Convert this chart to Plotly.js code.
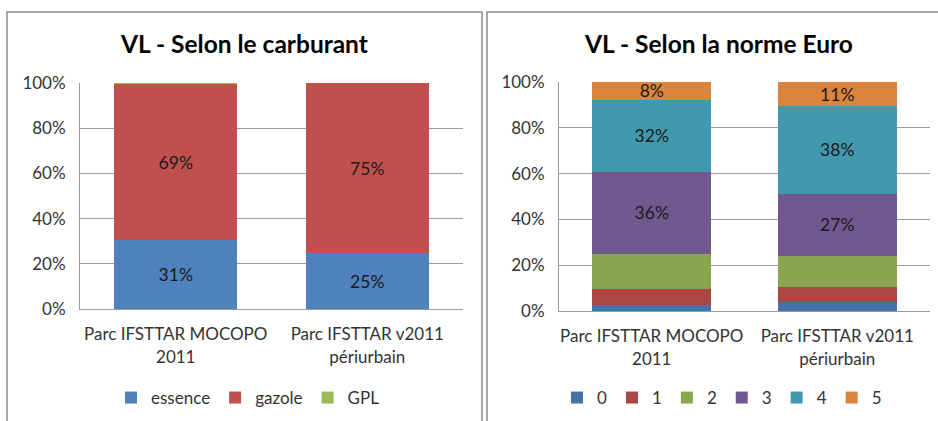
<!DOCTYPE html>
<html>
<head>
<meta charset="utf-8">
<script src="https://cdn.plot.ly/plotly-3.0.1.min.js"></script>
<style>
  html, body { margin: 0; padding: 0; background: #ffffff; }
  #chart { width: 938px; height: 421px; }
</style>
</head>
<body>
<div id="chart"></div>
<script>
// ---- Data ----
const categories = ["Parc IFSTTAR MOCOPO<br>2011", "Parc IFSTTAR v2011<br>périurbain"];

// Left panel: by fuel (%)
const fuelNames = ["essence", "gazole", "GPL"];
const essence = [30.6, 24.7];
const gazole  = [68.8, 75.2];
const gpl     = [0.6, 0.1];

// Right panel: by Euro norm (%)
const euroNames = ["0", "1", "2", "3", "4", "5"];
const euro0 = [2.5, 3.9];
const euro1 = [7.0, 6.8];
const euro2 = [15.5, 13.3];
const euro3 = [35.7, 27.3];
const euro4 = [31.6, 38.1];
const euro5 = [7.7, 10.6];

const yTicks = [0, 20, 40, 60, 80, 100];

// ---- Styles ----
const FONT = "Lato, 'Open Sans', sans-serif";
const fuelColors = ["#4F81BD", "#C0504D", "#9BBB59"];
const euroColors = ["#4572A7", "#AA4643", "#89A54E", "#71588F", "#4198AF", "#DB843D"];
const W = 938, H = 421;
const px = v => v / W;
const py = v => 1 - v / H;

function barTrace(name, y, color, labelled, axis, legend) {
  return {
    type: "bar",
    name: name,
    x: categories,
    y: y,
    xaxis: axis === 1 ? "x" : "x2",
    yaxis: axis === 1 ? "y" : "y2",
    legend: legend,
    marker: { color: color, line: { width: 0 } },
    texttemplate: labelled ? "%{y:.0f}%" : "",
    textposition: labelled ? "inside" : "none",
    insidetextanchor: "middle",
    textangle: 0,
    constraintext: "none",
    textfont: { family: FONT, size: 17.5, color: "#1a1a1a" },
    hoverinfo: "skip"
  };
}

const fuelSeries = [essence, gazole, gpl];
const fuelLabelled = [true, true, false];
const euroSeries = [euro0, euro1, euro2, euro3, euro4, euro5];
const euroLabelled = [false, false, false, true, true, true];

const data = [];
fuelSeries.forEach((s, i) => data.push(barTrace(fuelNames[i], s, fuelColors[i], fuelLabelled[i], 1, "legend")));
euroSeries.forEach((s, i) => data.push(barTrace(euroNames[i], s, euroColors[i], euroLabelled[i], 2, "legend2")));

const yAxisBase = {
  range: [0, 100],
  tickvals: yTicks,
  ticktext: yTicks.map(v => v + "%"),
  showgrid: true,
  gridcolor: "#9a9a9a",
  gridwidth: 1,
  zeroline: false,
  showline: true,
  linecolor: "#9a9a9a",
  linewidth: 1,
  ticks: "",
  ticklabelstandoff: 10,
  tickfont: { family: FONT, size: 17, color: "#333333" },
  fixedrange: true
};
const xAxisBase = {
  showgrid: false,
  zeroline: false,
  showline: true,
  linecolor: "#9a9a9a",
  linewidth: 1,
  ticks: "",
  tickangle: 0,
  ticklabelstandoff: 10,
  tickfont: { family: FONT, size: 17, color: "#333333" },
  fixedrange: true
};

const layout = {
  width: W,
  height: H,
  margin: { l: 0, r: 0, t: 0, b: 0 },
  paper_bgcolor: "#ffffff",
  plot_bgcolor: "#ffffff",
  barmode: "stack",
  bargap: 0.36,
  font: { family: FONT, color: "#333333" },
  xaxis: Object.assign({}, xAxisBase, { domain: [px(80), px(463)], anchor: "y" }),
  yaxis: Object.assign({}, yAxisBase, { domain: [py(309), py(83)], anchor: "x" }),
  xaxis2: Object.assign({}, xAxisBase, { domain: [px(559), px(930)], anchor: "y2" }),
  yaxis2: Object.assign({}, yAxisBase, { domain: [py(311), py(82)], anchor: "x2" }),
  legend: {
    orientation: "h",
    x: px(248), xanchor: "center",
    y: py(398), yanchor: "middle",
    font: { family: FONT, size: 17, color: "#333333" },
    itemclick: false, itemdoubleclick: false,
    traceorder: "normal"
  },
  legend2: {
    orientation: "h",
    x: px(722), xanchor: "center",
    y: py(398), yanchor: "middle",
    font: { family: FONT, size: 17, color: "#333333" },
    itemclick: false, itemdoubleclick: false,
    traceorder: "normal"
  },
  annotations: [
    { text: "<b>VL - Selon le carburant</b>", xref: "paper", yref: "paper",
      x: px(244), y: py(43), xanchor: "center", yanchor: "middle", showarrow: false,
      font: { family: FONT, size: 24.5, color: "#000000" } },
    { text: "<b>VL - Selon la norme Euro</b>", xref: "paper", yref: "paper",
      x: px(718), y: py(43), xanchor: "center", yanchor: "middle", showarrow: false,
      font: { family: FONT, size: 24.5, color: "#000000" } }
  ],
  shapes: [
    { type: "rect", xref: "paper", yref: "paper",
      x0: px(7), x1: px(482), y0: -0.05, y1: py(12),
      line: { color: "#8c8c8c", width: 1.5 }, fillcolor: "rgba(0,0,0,0)", layer: "below" },
    { type: "rect", xref: "paper", yref: "paper",
      x0: px(487), x1: 1.05, y0: -0.05, y1: py(12),
      line: { color: "#8c8c8c", width: 1.5 }, fillcolor: "rgba(0,0,0,0)", layer: "below" }
  ],
  hovermode: false,
  showlegend: true
};

Plotly.newPlot("chart", data, layout, { displayModeBar: false, staticPlot: true });
</script>
</body>
</html>
